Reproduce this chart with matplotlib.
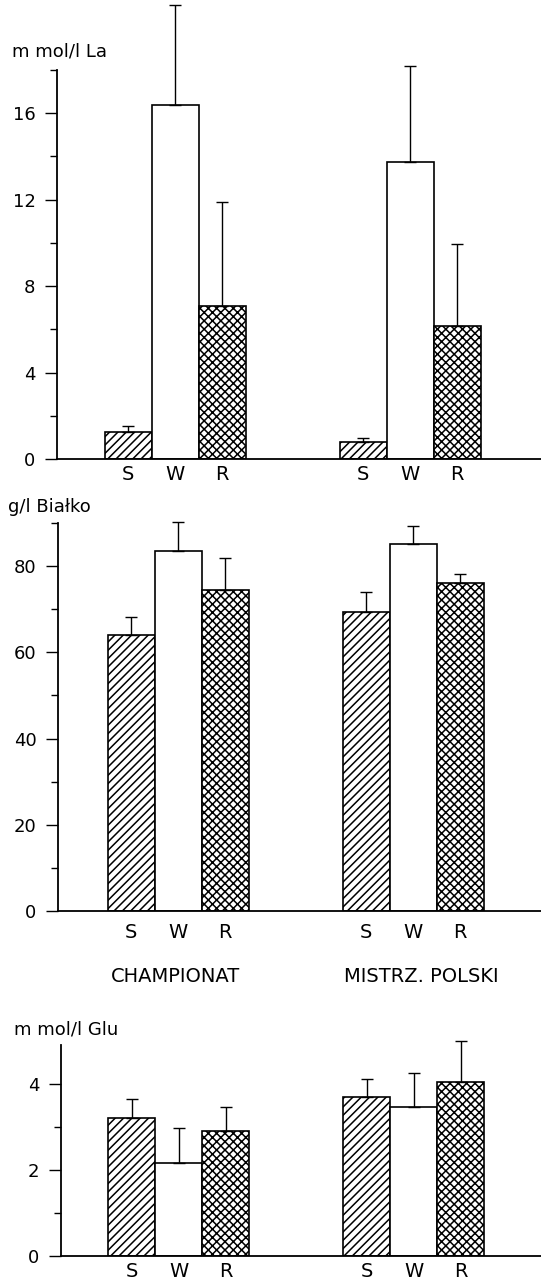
import matplotlib
matplotlib.use("Agg")
import matplotlib.pyplot as plt
import numpy as np

plt.rcParams['font.family'] = ['DejaVu Sans']
plt.rcParams['hatch.linewidth'] = 1.1

# groups: CHAMPIONAT, MISTRZ. POLSKI ; bars S, W, R
groups = ["CHAMPIONAT", "MISTRZ. POLSKI"]
bar_labels = ["S", "W", "R"]

# lactate, mmol/l
la_S = [1.25, 0.80]
la_W = [16.4, 13.75]
la_R = [7.10, 6.15]
la_S_sd = [0.28, 0.18]
la_W_sd = [4.60, 4.45]
la_R_sd = [4.80, 3.80]

# protein, g/l
bi_S = [64.0, 69.3]
bi_W = [83.5, 85.1]
bi_R = [74.4, 76.0]
bi_S_sd = [4.1, 4.6]
bi_W_sd = [6.7, 4.2]
bi_R_sd = [7.5, 2.1]

# glucose, mmol/l
glu_S = [3.20, 3.70]
glu_W = [2.16, 3.47]
glu_R = [2.91, 4.05]
glu_S_sd = [0.45, 0.42]
glu_W_sd = [0.82, 0.79]
glu_R_sd = [0.56, 0.95]

W_PX, H_PX = 541, 1286
fig = plt.figure(figsize=(W_PX / 100, H_PX / 100), dpi=100)

pos_S = np.array([0, 5])
pos_W = pos_S + 1
pos_R = pos_S + 2


def panel(left, top, bottom, w_center, ylim, major, minor, data, unit, unit_xy, xpad):
    ax = fig.add_axes([left / W_PX, 1 - bottom / H_PX,
                       (W_PX - left) / W_PX, (bottom - top) / H_PX])
    for pos, vals, sd, hatch in zip([pos_S, pos_W, pos_R], data[0], data[1],
                                    ['////', '', 'xxxx']):
        ax.bar(pos, vals, width=1, color='white', edgecolor='black',
               hatch=hatch, linewidth=1.2, zorder=2)
        ax.errorbar(pos, vals, yerr=[np.zeros(len(vals)), sd], fmt='none',
                    ecolor='black', elinewidth=1.0, capsize=4, capthick=1.0,
                    clip_on=False, zorder=3)
    px_per_unit = 47.0
    ax.set_xlim(1 - (w_center - left) / px_per_unit,
                1 + (W_PX - w_center) / px_per_unit)
    ax.set_ylim(*ylim)
    ax.set_yticks(major)
    ax.set_yticks(minor, minor=True)
    ax.set_xticks(np.concatenate([pos_S, pos_W, pos_R]))
    ax.set_xticklabels(["S", "S", "W", "W", "R", "R"], fontsize=14)
    ax.tick_params(axis='x', length=0, pad=xpad)
    ax.tick_params(axis='y', which='major', length=8.5, width=1.0,
                   pad=7, labelsize=13)
    ax.tick_params(axis='y', which='minor', length=5, width=1.0)
    for s in ['top', 'right']:
        ax.spines[s].set_visible(False)
    for s in ['left', 'bottom']:
        ax.spines[s].set_linewidth(1.3)
    ax.patch.set_alpha(0)
    fig.text(unit_xy[0] / W_PX, 1 - unit_xy[1] / H_PX, unit, fontsize=13,
             ha='left', va='center')
    return ax


panel(57, 70, 459, 175, (0, 18), [0, 4, 8, 12, 16], [2, 6, 10, 14, 18],
      ([la_S, la_W, la_R], [la_S_sd, la_W_sd, la_R_sd]),
      "m mol/l La", (12, 52), 4)

panel(58, 523, 911, 178, (0, 90), [0, 20, 40, 60, 80], [10, 30, 50, 70, 90],
      ([bi_S, bi_W, bi_R], [bi_S_sd, bi_W_sd, bi_R_sd]),
      "g/l Białko", (8, 507), 9)

panel(61, 1045, 1256, 178.5, (0, 4.9), [0, 2, 4], [1, 3],
      ([glu_S, glu_W, glu_R], [glu_S_sd, glu_W_sd, glu_R_sd]),
      "m mol/l Glu", (14, 1030), 4.5)

fig.text(175 / W_PX, 1 - 977 / H_PX, groups[0], fontsize=14,
         ha='center', va='center')
fig.text(421 / W_PX, 1 - 977 / H_PX, groups[1], fontsize=14,
         ha='center', va='center')

fig.savefig("out.png", dpi=100)
